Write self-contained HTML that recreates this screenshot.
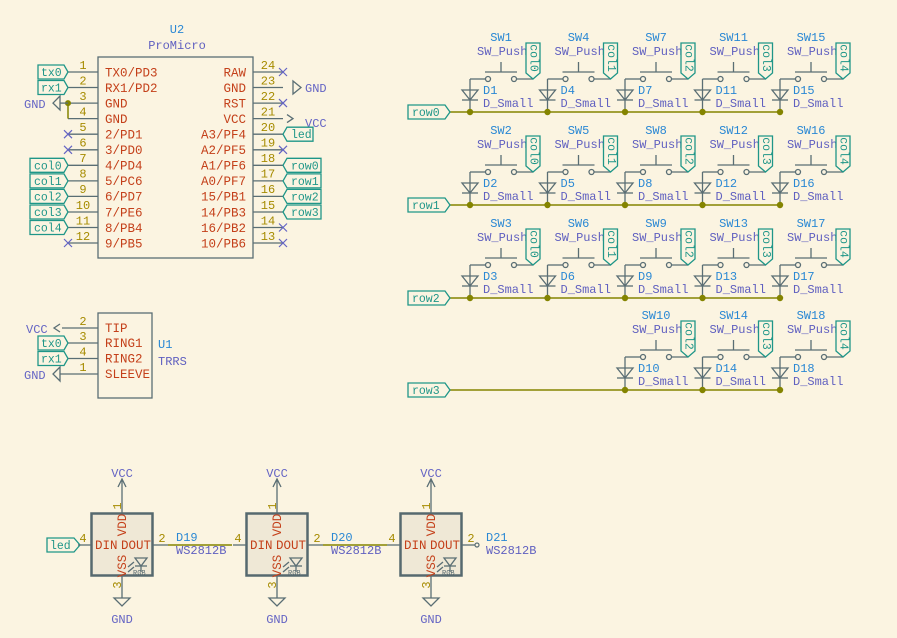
<!DOCTYPE html>
<html><head><meta charset="utf-8"><style>
html,body{margin:0;padding:0;background:#fbf4e1;}
svg{display:block;font-family:"Liberation Mono",monospace;}
.w{stroke:#5a6e74;stroke-width:1.3;fill:none}
.g{stroke:#848400;stroke-width:1.5;fill:none}
.lb{stroke:#1f9688;stroke-width:1.3;fill:#fbf4e1}
.lt{fill:#1f9688;font-size:11.5px}
.ct{fill:#1f9688;font-size:11.5px;text-anchor:middle;dominant-baseline:central}
.pn{fill:#a68b00;font-size:12px}
.nm{fill:#c4401a;font-size:12.5px}
.rf{fill:#2a88d4;font-size:12px}
.vl{fill:#6060c0;font-size:12px}
.pw{fill:#6464c4;font-size:12px}
.nc{stroke:#6464c4;stroke-width:1.2}
</style></head><body>
<svg width="897" height="638" viewBox="0 0 897 638" xmlns="http://www.w3.org/2000/svg">
<defs>
<g id="cell">
<line class="w" x1="0" y1="-33" x2="0" y2="0"/>
<polygon class="w" points="-8,-22 8,-22 0,-12"/>
<line class="w" x1="-8" y1="-12" x2="8" y2="-12"/>
<line class="w" x1="0" y1="-33" x2="15.5" y2="-33"/>
<circle class="w" cx="18" cy="-33" r="2.5"/>
<circle class="w" cx="44" cy="-33" r="2.5"/>
<line class="w" x1="46.5" y1="-33" x2="63" y2="-33"/>
<line class="w" x1="15" y1="-40" x2="47" y2="-40"/>
<line class="w" x1="31" y1="-50" x2="31" y2="-40"/>
<circle cx="0" cy="0" r="3.2" fill="#848400"/>
</g>
<path id="col" class="lb" d="M56,-69 H70 V-39 L63,-33 L56,-39 Z"/>
</defs>

<!-- ===== ProMicro U2 ===== -->
<text x="177" y="33" class="rf" text-anchor="middle" font-size="13">U2</text>
<text x="177" y="49" class="vl" text-anchor="middle" font-size="13">ProMicro</text>
<rect x="98" y="57" width="155" height="201" class="w" fill="none"/>
<g class="w">
<line x1="68" y1="72" x2="98" y2="72"/><line x1="68" y1="87.5" x2="98" y2="87.5"/>
<line x1="68" y1="103.1" x2="98" y2="103.1"/><line x1="68" y1="118.6" x2="98" y2="118.6"/>
<line x1="68" y1="134.2" x2="98" y2="134.2"/><line x1="68" y1="149.8" x2="98" y2="149.8"/>
<line x1="68" y1="165.3" x2="98" y2="165.3"/><line x1="68" y1="180.9" x2="98" y2="180.9"/>
<line x1="68" y1="196.4" x2="98" y2="196.4"/><line x1="68" y1="212" x2="98" y2="212"/>
<line x1="68" y1="227.5" x2="98" y2="227.5"/><line x1="68" y1="243" x2="98" y2="243"/>
<line x1="253" y1="72" x2="283" y2="72"/><line x1="253" y1="87.5" x2="283" y2="87.5"/>
<line x1="253" y1="103.1" x2="283" y2="103.1"/><line x1="253" y1="118.6" x2="283" y2="118.6"/>
<line x1="253" y1="134.2" x2="283" y2="134.2"/><line x1="253" y1="149.8" x2="283" y2="149.8"/>
<line x1="253" y1="165.3" x2="283" y2="165.3"/><line x1="253" y1="180.9" x2="283" y2="180.9"/>
<line x1="253" y1="196.4" x2="283" y2="196.4"/><line x1="253" y1="212" x2="283" y2="212"/>
<line x1="253" y1="227.5" x2="283" y2="227.5"/><line x1="253" y1="243" x2="283" y2="243"/>
</g>
<g class="pn" text-anchor="middle">
<text x="83" y="69">1</text><text x="83" y="84.5">2</text><text x="83" y="100">3</text><text x="83" y="115.5">4</text>
<text x="83" y="131">5</text><text x="83" y="146.5">6</text><text x="83" y="162">7</text><text x="83" y="177.5">8</text>
<text x="83" y="193">9</text><text x="83" y="209">10</text><text x="83" y="224.5">11</text><text x="83" y="240">12</text>
<text x="268" y="69">24</text><text x="268" y="84.5">23</text><text x="268" y="100">22</text><text x="268" y="115.5">21</text>
<text x="268" y="131">20</text><text x="268" y="146.5">19</text><text x="268" y="162">18</text><text x="268" y="177.5">17</text>
<text x="268" y="193">16</text><text x="268" y="209">15</text><text x="268" y="224.5">14</text><text x="268" y="240">13</text>
</g>
<g class="nm">
<text x="105" y="76.5">TX0/PD3</text><text x="105" y="92">RX1/PD2</text><text x="105" y="107.5">GND</text><text x="105" y="123">GND</text>
<text x="105" y="138.5">2/PD1</text><text x="105" y="154">3/PD0</text><text x="105" y="169.5">4/PD4</text><text x="105" y="185">5/PC6</text>
<text x="105" y="200.5">6/PD7</text><text x="105" y="216.5">7/PE6</text><text x="105" y="232">8/PB4</text><text x="105" y="247.5">9/PB5</text>
</g>
<g class="nm" text-anchor="end">
<text x="246" y="76.5">RAW</text><text x="246" y="92">GND</text><text x="246" y="107.5">RST</text><text x="246" y="123">VCC</text>
<text x="246" y="138.5">A3/PF4</text><text x="246" y="154">A2/PF5</text><text x="246" y="169.5">A1/PF6</text><text x="246" y="185">A0/PF7</text>
<text x="246" y="200.5">15/PB1</text><text x="246" y="216.5">14/PB3</text><text x="246" y="232">16/PB2</text><text x="246" y="247.5">10/PB6</text>
</g>
<g class="nc">
<path d="M64,130.2 l8,8 M72,130.2 l-8,8"/><path d="M64,145.8 l8,8 M72,145.8 l-8,8"/><path d="M64,239 l8,8 M72,239 l-8,8"/>
<path d="M279,68 l8,8 M287,68 l-8,8"/><path d="M279,99.1 l8,8 M287,99.1 l-8,8"/><path d="M279,145.8 l8,8 M287,145.8 l-8,8"/>
<path d="M279,223.5 l8,8 M287,223.5 l-8,8"/><path d="M279,239 l8,8 M287,239 l-8,8"/>
</g>
<path class="g" d="M68,103.1 V118.6" stroke-width="1.3"/>
<circle cx="68" cy="103.1" r="3" fill="#848400"/>
<line class="w" x1="60" y1="103.1" x2="68" y2="103.1"/>
<polygon class="w" points="60,96 60,110 53,103.1"/>
<text x="24" y="108" class="pw" font-size="13">GND</text>
<polygon class="w" points="293,81 293,94 301,87.5"/>
<text x="305" y="92" class="pw" font-size="13">GND</text>
<path class="w" d="M287,114.6 L293,118.6 L287,122.6"/>
<text x="305" y="127" class="pw" font-size="13">VCC</text>
<polygon class="lb" points="38,65 64,65 68,72 64,79 38,79"/><text x="41" y="76" class="lt">tx0</text>
<polygon class="lb" points="38,80.5 64,80.5 68,87.5 64,94.5 38,94.5"/><text x="41" y="91.5" class="lt">rx1</text>
<polygon class="lb" points="30,158.3 64,158.3 68,165.3 64,172.3 30,172.3"/><text x="34" y="169.3" class="lt">col0</text>
<polygon class="lb" points="30,173.9 64,173.9 68,180.9 64,187.9 30,187.9"/><text x="34" y="184.9" class="lt">col1</text>
<polygon class="lb" points="30,189.4 64,189.4 68,196.4 64,203.4 30,203.4"/><text x="34" y="200.4" class="lt">col2</text>
<polygon class="lb" points="30,205 64,205 68,212 64,219 30,219"/><text x="34" y="216" class="lt">col3</text>
<polygon class="lb" points="30,220.5 64,220.5 68,227.5 64,234.5 30,234.5"/><text x="34" y="231.5" class="lt">col4</text>
<polygon class="lb" points="283,134.2 287,127.2 313,127.2 313,141.2 287,141.2"/><text x="291" y="138.2" class="lt">led</text>
<polygon class="lb" points="283,165.3 287,158.3 321,158.3 321,172.3 287,172.3"/><text x="291" y="169.3" class="lt">row0</text>
<polygon class="lb" points="283,180.9 287,173.9 321,173.9 321,187.9 287,187.9"/><text x="291" y="184.9" class="lt">row1</text>
<polygon class="lb" points="283,196.4 287,189.4 321,189.4 321,203.4 287,203.4"/><text x="291" y="200.4" class="lt">row2</text>
<polygon class="lb" points="283,212 287,205 321,205 321,219 287,219"/><text x="291" y="216" class="lt">row3</text>

<!-- ===== TRRS U1 ===== -->
<rect x="98" y="313" width="54" height="85" class="w"/>
<g class="w">
<line x1="62" y1="328" x2="98" y2="328"/><line x1="68" y1="343" x2="98" y2="343"/>
<line x1="68" y1="358.5" x2="98" y2="358.5"/><line x1="60" y1="374" x2="98" y2="374"/>
<path d="M60,324 L54,328 L60,332"/>
<polygon points="60,367 60,381 53,374"/>
</g>
<g class="pn" text-anchor="middle">
<text x="83" y="325">2</text><text x="83" y="340">3</text><text x="83" y="355.5">4</text><text x="83" y="371">1</text>
</g>
<g class="nm"><text x="105" y="332">TIP</text><text x="105" y="347">RING1</text><text x="105" y="362.5">RING2</text><text x="105" y="378">SLEEVE</text></g>
<text x="26" y="333" class="pw" font-size="13">VCC</text>
<text x="24" y="379" class="pw" font-size="13">GND</text>
<polygon class="lb" points="38,336 64,336 68,343 64,350 38,350"/><text x="41" y="347" class="lt">tx0</text>
<polygon class="lb" points="38,351.5 64,351.5 68,358.5 64,365.5 38,365.5"/><text x="41" y="362.5" class="lt">rx1</text>
<text x="158" y="348" class="rf" font-size="14">U1</text>
<text x="158" y="365" class="vl" font-size="14">TRRS</text>

<!-- ===== Key matrix ===== -->
<line class="g" x1="450" y1="112" x2="780" y2="112"/>
<line class="g" x1="450" y1="205" x2="780" y2="205"/>
<line class="g" x1="450" y1="298" x2="780" y2="298"/>
<line class="g" x1="450" y1="390" x2="780" y2="390"/>
<polygon class="lb" points="408,105 445,105 450,112 445,119 408,119"/><text x="412" y="116" class="lt">row0</text>
<polygon class="lb" points="408,198 445,198 450,205 445,212 408,212"/><text x="412" y="209" class="lt">row1</text>
<polygon class="lb" points="408,291 445,291 450,298 445,305 408,305"/><text x="412" y="302" class="lt">row2</text>
<polygon class="lb" points="408,383 445,383 450,390 445,397 408,397"/><text x="412" y="394" class="lt">row3</text>

<g transform="translate(470,112)"><use href="#cell"/><text x="31" y="-71" class="rf" text-anchor="middle" font-size="11">SW1</text><text x="7" y="-57" class="vl">SW_Push</text><use href="#col"/><text class="ct" transform="translate(63,-54) rotate(90)">col0</text><text x="13" y="-18" class="rf">D1</text><text x="13" y="-5" class="vl">D_Small</text></g>
<g transform="translate(547.5,112)"><use href="#cell"/><text x="31" y="-71" class="rf" text-anchor="middle" font-size="11">SW4</text><text x="7" y="-57" class="vl">SW_Push</text><use href="#col"/><text class="ct" transform="translate(63,-54) rotate(90)">col1</text><text x="13" y="-18" class="rf">D4</text><text x="13" y="-5" class="vl">D_Small</text></g>
<g transform="translate(625,112)"><use href="#cell"/><text x="31" y="-71" class="rf" text-anchor="middle" font-size="11">SW7</text><text x="7" y="-57" class="vl">SW_Push</text><use href="#col"/><text class="ct" transform="translate(63,-54) rotate(90)">col2</text><text x="13" y="-18" class="rf">D7</text><text x="13" y="-5" class="vl">D_Small</text></g>
<g transform="translate(702.5,112)"><use href="#cell"/><text x="31" y="-71" class="rf" text-anchor="middle" font-size="11">SW11</text><text x="7" y="-57" class="vl">SW_Push</text><use href="#col"/><text class="ct" transform="translate(63,-54) rotate(90)">col3</text><text x="13" y="-18" class="rf">D11</text><text x="13" y="-5" class="vl">D_Small</text></g>
<g transform="translate(780,112)"><use href="#cell"/><text x="31" y="-71" class="rf" text-anchor="middle" font-size="11">SW15</text><text x="7" y="-57" class="vl">SW_Push</text><use href="#col"/><text class="ct" transform="translate(63,-54) rotate(90)">col4</text><text x="13" y="-18" class="rf">D15</text><text x="13" y="-5" class="vl">D_Small</text></g>
<g transform="translate(470,205)"><use href="#cell"/><text x="31" y="-71" class="rf" text-anchor="middle" font-size="11">SW2</text><text x="7" y="-57" class="vl">SW_Push</text><use href="#col"/><text class="ct" transform="translate(63,-54) rotate(90)">col0</text><text x="13" y="-18" class="rf">D2</text><text x="13" y="-5" class="vl">D_Small</text></g>
<g transform="translate(547.5,205)"><use href="#cell"/><text x="31" y="-71" class="rf" text-anchor="middle" font-size="11">SW5</text><text x="7" y="-57" class="vl">SW_Push</text><use href="#col"/><text class="ct" transform="translate(63,-54) rotate(90)">col1</text><text x="13" y="-18" class="rf">D5</text><text x="13" y="-5" class="vl">D_Small</text></g>
<g transform="translate(625,205)"><use href="#cell"/><text x="31" y="-71" class="rf" text-anchor="middle" font-size="11">SW8</text><text x="7" y="-57" class="vl">SW_Push</text><use href="#col"/><text class="ct" transform="translate(63,-54) rotate(90)">col2</text><text x="13" y="-18" class="rf">D8</text><text x="13" y="-5" class="vl">D_Small</text></g>
<g transform="translate(702.5,205)"><use href="#cell"/><text x="31" y="-71" class="rf" text-anchor="middle" font-size="11">SW12</text><text x="7" y="-57" class="vl">SW_Push</text><use href="#col"/><text class="ct" transform="translate(63,-54) rotate(90)">col3</text><text x="13" y="-18" class="rf">D12</text><text x="13" y="-5" class="vl">D_Small</text></g>
<g transform="translate(780,205)"><use href="#cell"/><text x="31" y="-71" class="rf" text-anchor="middle" font-size="11">SW16</text><text x="7" y="-57" class="vl">SW_Push</text><use href="#col"/><text class="ct" transform="translate(63,-54) rotate(90)">col4</text><text x="13" y="-18" class="rf">D16</text><text x="13" y="-5" class="vl">D_Small</text></g>
<g transform="translate(470,298)"><use href="#cell"/><text x="31" y="-71" class="rf" text-anchor="middle" font-size="11">SW3</text><text x="7" y="-57" class="vl">SW_Push</text><use href="#col"/><text class="ct" transform="translate(63,-54) rotate(90)">col0</text><text x="13" y="-18" class="rf">D3</text><text x="13" y="-5" class="vl">D_Small</text></g>
<g transform="translate(547.5,298)"><use href="#cell"/><text x="31" y="-71" class="rf" text-anchor="middle" font-size="11">SW6</text><text x="7" y="-57" class="vl">SW_Push</text><use href="#col"/><text class="ct" transform="translate(63,-54) rotate(90)">col1</text><text x="13" y="-18" class="rf">D6</text><text x="13" y="-5" class="vl">D_Small</text></g>
<g transform="translate(625,298)"><use href="#cell"/><text x="31" y="-71" class="rf" text-anchor="middle" font-size="11">SW9</text><text x="7" y="-57" class="vl">SW_Push</text><use href="#col"/><text class="ct" transform="translate(63,-54) rotate(90)">col2</text><text x="13" y="-18" class="rf">D9</text><text x="13" y="-5" class="vl">D_Small</text></g>
<g transform="translate(702.5,298)"><use href="#cell"/><text x="31" y="-71" class="rf" text-anchor="middle" font-size="11">SW13</text><text x="7" y="-57" class="vl">SW_Push</text><use href="#col"/><text class="ct" transform="translate(63,-54) rotate(90)">col3</text><text x="13" y="-18" class="rf">D13</text><text x="13" y="-5" class="vl">D_Small</text></g>
<g transform="translate(780,298)"><use href="#cell"/><text x="31" y="-71" class="rf" text-anchor="middle" font-size="11">SW17</text><text x="7" y="-57" class="vl">SW_Push</text><use href="#col"/><text class="ct" transform="translate(63,-54) rotate(90)">col4</text><text x="13" y="-18" class="rf">D17</text><text x="13" y="-5" class="vl">D_Small</text></g>
<g transform="translate(625,390)"><use href="#cell"/><text x="31" y="-71" class="rf" text-anchor="middle" font-size="11">SW10</text><text x="7" y="-57" class="vl">SW_Push</text><use href="#col"/><text class="ct" transform="translate(63,-54) rotate(90)">col2</text><text x="13" y="-18" class="rf">D10</text><text x="13" y="-5" class="vl">D_Small</text></g>
<g transform="translate(702.5,390)"><use href="#cell"/><text x="31" y="-71" class="rf" text-anchor="middle" font-size="11">SW14</text><text x="7" y="-57" class="vl">SW_Push</text><use href="#col"/><text class="ct" transform="translate(63,-54) rotate(90)">col3</text><text x="13" y="-18" class="rf">D14</text><text x="13" y="-5" class="vl">D_Small</text></g>
<g transform="translate(780,390)"><use href="#cell"/><text x="31" y="-71" class="rf" text-anchor="middle" font-size="11">SW18</text><text x="7" y="-57" class="vl">SW_Push</text><use href="#col"/><text class="ct" transform="translate(63,-54) rotate(90)">col4</text><text x="13" y="-18" class="rf">D18</text><text x="13" y="-5" class="vl">D_Small</text></g>

<!-- ===== LEDs ===== -->
<line class="g" x1="168" y1="545" x2="232" y2="545"/>
<line class="g" x1="323" y1="545" x2="387" y2="545"/>
<polygon class="lb" points="47,538 74,538 80,545 74,552 47,552"/><text x="50" y="549" class="lt">led</text>

<g id="led1">
<rect x="91.5" y="513.5" width="61" height="62" fill="#efe8d6" stroke="#56696f" stroke-width="2.5"/>
<g class="w">
<line x1="122" y1="480" x2="122" y2="513"/>
<path d="M118,487 L122,479 L126,487"/>
<line x1="122" y1="576" x2="122" y2="598"/>
<polygon points="114,598 130,598 122,606"/>
<line x1="78" y1="545" x2="91" y2="545"/>
<line x1="153" y1="545" x2="168" y2="545"/>
<polygon points="135,558 147,558 141,566"/><line x1="135" y1="566" x2="147" y2="566"/><line x1="141" y1="566" x2="141" y2="572"/>
<path d="M134,562 l-6,5 M134,567 l-6,5"/>
</g>
<text x="133" y="575" fill="#56696f" font-size="7">RGB</text>
<text x="122" y="477" class="pw" text-anchor="middle">VCC</text>
<text x="122" y="623" class="pw" text-anchor="middle">GND</text>
<text class="pn" transform="translate(121,506) rotate(-90)" text-anchor="middle" font-size="11">1</text>
<text class="pn" transform="translate(121,585) rotate(-90)" text-anchor="middle" font-size="11">3</text>
<text x="83" y="542" class="pn" text-anchor="middle">4</text>
<text x="162" y="542" class="pn" text-anchor="middle">2</text>
<text x="95" y="549" class="nm" font-size="11.5">DIN</text>
<text x="151" y="549" class="nm" font-size="11.5" text-anchor="end">DOUT</text>
<text class="nm" transform="translate(126,525) rotate(-90)" text-anchor="middle" font-size="11">VDD</text>
<text class="nm" transform="translate(126,566) rotate(-90)" text-anchor="middle" font-size="11">VSS</text>
</g>
<text x="176" y="541" class="rf">D19</text>
<text x="176" y="554" class="vl" font-size="11">WS2812B</text>
<use href="#led1" x="155"/>
<text x="331" y="541" class="rf">D20</text>
<text x="331" y="554" class="vl" font-size="11">WS2812B</text>
<use href="#led1" x="309"/>
<circle cx="477" cy="545" r="2" fill="#fbf4e1" stroke="#5a6e74" stroke-width="1.2"/>
<text x="486" y="541" class="rf">D21</text>
<text x="486" y="554" class="vl" font-size="11">WS2812B</text>
</svg>
</body></html>
